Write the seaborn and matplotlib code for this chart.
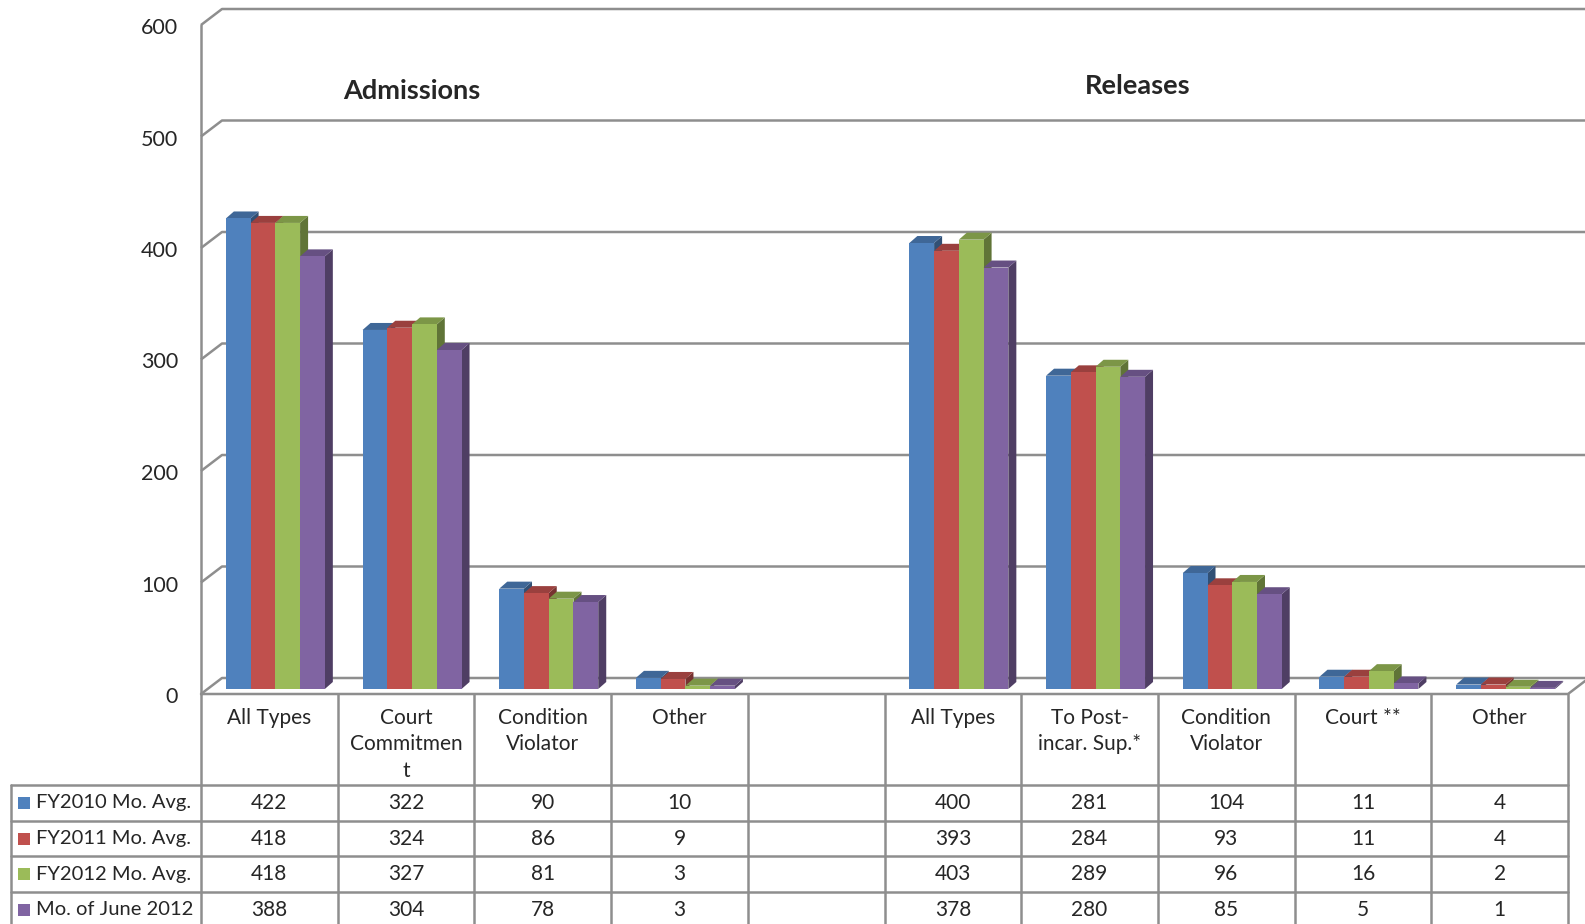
"""
Admissions / Releases monthly averages - 3D style column chart with data table
"""

import matplotlib

matplotlib.use("Agg")
import matplotlib.pyplot as plt
import numpy as np
import pandas as pd
import seaborn as sns
from matplotlib.colors import to_rgb
from matplotlib.patches import Polygon, Rectangle

# Data
ADMISSION_TYPES = ["All Types", "Court\nCommitmen\nt", "Condition\nViolator", "Other"]
RELEASE_TYPES = ["All Types", "To Post-\nincar. Sup.*", "Condition\nViolator", "Court **", "Other"]
SERIES = ["FY2010 Mo. Avg.", "FY2011 Mo. Avg.", "FY2012 Mo. Avg.", "Mo. of June 2012"]
COLORS = ["#4F81BD", "#C0504D", "#9BBB59", "#8064A2"]

FY2010 = [422, 322, 90, 10, 400, 281, 104, 11, 4]
FY2011 = [418, 324, 86, 9, 393, 284, 93, 11, 4]
FY2012 = [418, 327, 81, 3, 403, 289, 96, 16, 2]
JUNE_2012 = [388, 304, 78, 3, 378, 280, 85, 5, 1]

Y_TICKS = [0, 100, 200, 300, 400, 500, 600]

W, H = 1585, 924
GRID_COLOR = "#8e8e8e"

# category keys: admissions, one empty spacer column, releases
adm_keys = ["Admissions|" + t for t in ADMISSION_TYPES]
rel_keys = ["Releases|" + t for t in RELEASE_TYPES]
order = adm_keys + ["gap"] + rel_keys
header_labels = ADMISSION_TYPES + [""] + RELEASE_TYPES

rows = []
for name, values in zip(SERIES, [FY2010, FY2011, FY2012, JUNE_2012]):
    for key, v in zip(adm_keys + rel_keys, values):
        rows.append({"category": key, "series": name, "value": v})
df = pd.DataFrame(rows)

sns.set_theme(style="white")
plt.rcParams["font.family"] = ["Lato", "DejaVu Sans"]

fig = plt.figure(figsize=(W / 100, H / 100), dpi=100)

# background overlay in pixel coordinates (walls, grid, table)
deco = fig.add_axes([0, 0, 1, 1], zorder=0)
deco.set_xlim(0, W)
deco.set_ylim(H, 0)
deco.set_axis_off()

# bar axes
ax = fig.add_axes([207 / W, (H - 689) / H, 1367 / W, 669 / H], zorder=1)
ax.patch.set_alpha(0)
sns.barplot(
    data=df, x="category", y="value", hue="series",
    order=order, hue_order=SERIES, palette=COLORS,
    width=0.724, saturation=1, legend=False, ax=ax,
    edgecolor="none", linewidth=0,
)
ax.set_xlim(-0.5, len(order) - 0.5)
ax.set_ylim(0, 600)
ax.set_axis_off()


def ypix(v):
    """value -> pixel row (top origin) at the bar plane"""
    return H - ax.transData.transform((0, v))[1]


# --- walls & gridlines
front_x, back_x, right_x = 201, 222, 1592
front_dy, back_dy = 5, -11
for v in Y_TICKS:
    yb = ypix(v)
    deco.plot([front_x, back_x, right_x], [yb + front_dy, yb + back_dy, yb + back_dy],
              color=GRID_COLOR, lw=1.8, solid_capstyle="butt")
    deco.text(178, yb + front_dy + 3, str(v), ha="right", va="center", fontsize=15.5)
deco.plot([front_x, front_x], [ypix(600) + front_dy, ypix(0) + front_dy], color=GRID_COLOR, lw=1.8)

# --- 3D faces on the bars
inv = ax.transData.inverted()
dx, dy = 8, 7
bars = sorted([p for p in ax.patches if p.get_height() > 0], key=lambda p: p.get_x())
for i, p in enumerate(bars):
    (x0, y0) = ax.transData.transform((p.get_x(), 0))
    (x1, y1) = ax.transData.transform((p.get_x() + p.get_width(), p.get_height()))
    base = np.array(to_rgb(p.get_facecolor()))
    top = [(x0, y1), (x1, y1), (x1 + dx, y1 + dy), (x0 + dx, y1 + dy)]
    side = [(x1, y0), (x1 + dx, y0 + dy), (x1 + dx, y1 + dy), (x1, y1)]
    ax.add_patch(Polygon(inv.transform(side), closed=True, facecolor=base * 0.62,
                         edgecolor="none", zorder=2 + 3 * i, clip_on=False))
    ax.add_patch(Polygon(inv.transform(top), closed=True, facecolor=base * 0.8,
                         edgecolor="none", zorder=3 + 3 * i, clip_on=False))
    p.set_zorder(4 + 3 * i)
    p.set_clip_on(False)

# --- titles
deco.text(412, 91, "Admissions", ha="center", va="center", fontsize=19.5, fontweight="bold")
deco.text(1138, 86, "Releases", ha="center", va="center", fontsize=19.5, fontweight="bold")

# --- data table
col_w = 136.7
n_cols = len(order)
borders = [front_x + col_w * k for k in range(n_cols + 1)]
table_top = ypix(0) + front_dy
header_bottom = 785
row_h = 35.7
row_lines = [header_bottom + row_h * k for k in range(len(SERIES) + 1)]

# floor edge / right corner
deco.plot([borders[0], borders[-1], borders[-1] + 21], [table_top, table_top, table_top - 16],
          color=GRID_COLOR, lw=1.8)
for b in borders:
    deco.plot([b, b], [table_top, H + 10], color=GRID_COLOR, lw=1.8)
for y in row_lines:
    deco.plot([11, borders[-1]], [y, y], color=GRID_COLOR, lw=1.8)
deco.plot([11, 11], [header_bottom, H + 10], color=GRID_COLOR, lw=1.8)

for k, label in enumerate(header_labels):
    cx = (borders[k] + borders[k + 1]) / 2
    for j, line in enumerate(label.split("\n") if label else []):
        deco.text(cx, 718 + 26.5 * j, line, ha="center", va="center", fontsize=15)

series_values = [FY2010, FY2011, FY2012, JUNE_2012]
for r, (name, color, values) in enumerate(zip(SERIES, COLORS, series_values)):
    cy = header_bottom + row_h * (r + 0.5)
    deco.add_patch(Rectangle((18, cy - 6), 12, 12, facecolor=color, edgecolor="none"))
    deco.text(36, cy, name, ha="left", va="center", fontsize=14.5)
    cells = values[:4] + [None] + values[4:]
    for k, v in enumerate(cells):
        if v is None:
            continue
        cx = (borders[k] + borders[k + 1]) / 2
        deco.text(cx, cy, str(v), ha="center", va="center", fontsize=15)

fig.savefig("out.png", dpi=100)
